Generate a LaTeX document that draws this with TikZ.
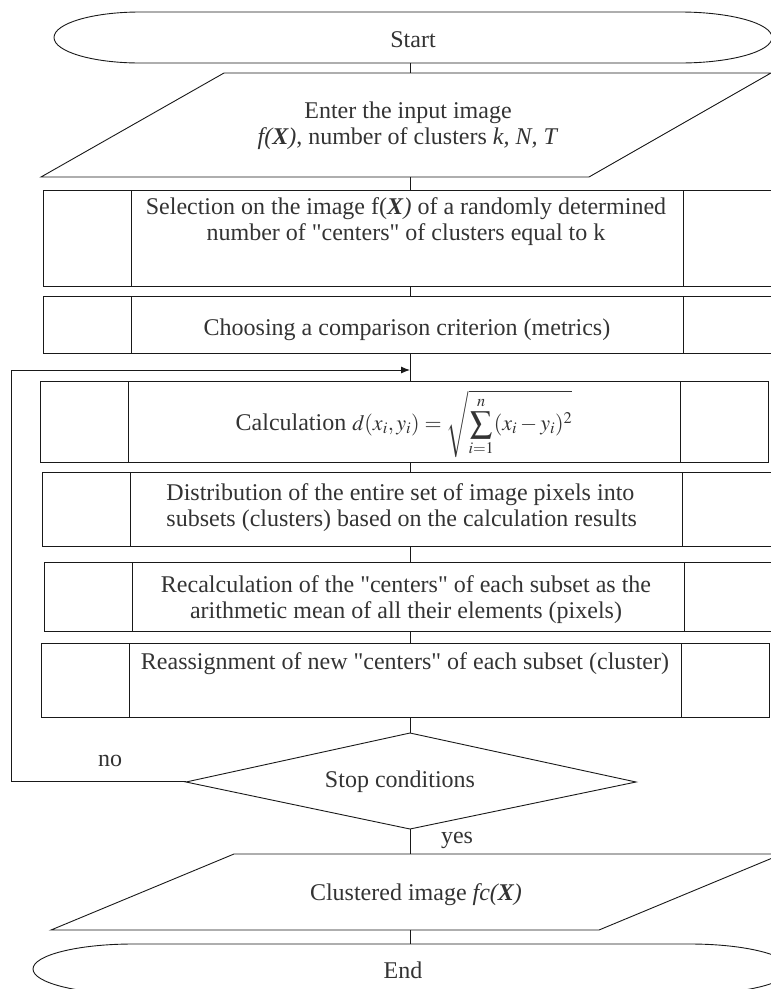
\documentclass[tikz,border=0pt]{standalone}
\usepackage{mathptmx}
\usepackage{fontspec}
\setmainfont{Liberation Serif}[Ligatures=TeXOff]
\usetikzlibrary{fit,arrows.meta}
\newcommand\dq{\char34\relax}
\begin{document}
\begin{tikzpicture}[x=1pt,y=-1pt,line width=0.9pt,
  shp/.style={draw=black!90},
  frame/.style={inner sep=0pt,outer sep=0pt},
  lbl/.style={font=\fontsize{24}{26}\selectfont,text=black!80,inner sep=0pt,align=center},
  conn/.style={draw=black!90}]
\useasboundingbox (0,0) rectangle (771,989);
\clip (0,0) rectangle (771,989);
\coordinate (axis) at (410,0);
\coordinate (loopx) at (11,0);
\coordinate (loopy) at (0,370);

% Start terminator
\draw[shp] (140,12) -- (680,12) arc[start angle=-90,end angle=90,x radius=92,y radius=25.5]
  -- (140,63) arc[start angle=90,end angle=270,x radius=86,y radius=25.5] -- cycle;
\node[frame,fit={(54,12) (772,63)}] (start) {};
\node[lbl] (tstart) at (413,40) {Start};

% Input parallelogram
\draw[shp] (224,73) -- (771,73) -- (589,177) -- (41,177) -- cycle;
\node[frame,fit={(41,73) (771,177)}] (input) {};
\node[lbl] (tinput) at (408,126) {Enter the input image\\ \textit{f(\textbf{X})}, number of clusters \textit{k, N, T}};

% Selection
\node[shp,frame,fit={(43,190) (776,286)}] (sel) {};
\draw[shp] (131,190) -- (131,286) (683,190) -- (683,286);
\node[lbl] (tsel) at (406,222) {Selection on the image f(\textbf{\textit{X}}\textit{)} of a randomly determined\\ number of \dq centers\dq\ of clusters equal to k};

% Choosing
\node[shp,frame,fit={(43,296) (776,353)}] (cho) {};
\draw[shp] (131,296) -- (131,353) (683,296) -- (683,353);
\node[lbl] (tcho) at (407,330) {Choosing a comparison criterion (metrics)};

% Calculation
\node[shp,frame,fit={(40,381) (768,462)}] (calc) {};
\draw[shp] (128,381) -- (128,462) (680,381) -- (680,462);
\node[lbl] (tcalc) at (404,424) {Calculation {\fontsize{22}{24}\selectfont$\displaystyle d(x_i,y_i)=\sqrt{\sum_{i=1}^{n}(x_i-y_i)^2}$}};

% Distribution
\node[shp,frame,fit={(42,472) (771,546)}] (dist) {};
\draw[shp] (130,472) -- (130,546) (682,472) -- (682,546);
\node[lbl,align=left,anchor=west] (tdist) at (166,508) {Distribution of the entire set of image pixels into\\ subsets (clusters) based on the calculation results};

% Recalculation
\node[shp,frame,fit={(44,562) (776,631)}] (rec) {};
\draw[shp] (132,562) -- (132,631) (684,562) -- (684,631);
\node[lbl] (trec) at (406,600) {Recalculation of the \dq centers\dq\ of each subset as the\\ arithmetic mean of all their elements (pixels)};

% Reassignment
\node[shp,frame,fit={(41,643) (769,717)}] (rea) {};
\draw[shp] (129,643) -- (129,717) (681,643) -- (681,717);
\node[lbl] (trea) at (405,664) {Reassignment of new \dq centers\dq\ of each subset (cluster)};

% Decision
\draw[shp] (410,733) -- (636,782) -- (410,829) -- (186,782) -- cycle;
\node[frame,fit={(186,733) (636,829)}] (stop) {};
\node[lbl] (tstop) at (400,782) {Stop conditions};
\node[lbl] (tno) at (110,761) {no};
\node[lbl] (tyes) at (457,840) {yes};

% Output parallelogram
\draw[shp] (234,854) -- (782,854) -- (599,930) -- (51,930) -- cycle;
\node[frame,fit={(51,854) (782,930)}] (out) {};
\node[lbl] (tout) at (416,895) {Clustered image \textit{fc(\textbf{X})}};

% End terminator
\draw[shp] (133,944) -- (690,944) arc[start angle=-90,end angle=90,x radius=100,y radius=25]
  -- (133,994) arc[start angle=90,end angle=270,x radius=100,y radius=25] -- cycle;
\node[frame,fit={(33,944) (790,994)}] (end) {};
\node[lbl] (tend) at (403,970) {End};

% Connectors
\draw[conn] (start.south -| axis) -- (input.north -| axis);
\draw[conn] (input.south -| axis) -- (sel.north -| axis);
\draw[conn] (sel.south -| axis) -- (cho.north -| axis);
\draw[conn] (cho.south -| axis) -- (calc.north -| axis);
\draw[conn] (calc.south -| axis) -- (dist.north -| axis);
\draw[conn] (dist.south -| axis) -- (rec.north -| axis);
\draw[conn] (rec.south -| axis) -- (rea.north -| axis);
\draw[conn] (rea.south -| axis) -- (stop.north -| axis);
\draw[conn] (stop.south -| axis) -- (out.north -| axis);
\draw[conn] (out.south -| axis) -- (end.north -| axis);
\draw[conn,-{Latex[length=9pt,width=7pt]}] (stop.west) -- (stop.west -| loopx) -- (loopx |- loopy) -- (axis |- loopy);
\end{tikzpicture}
\end{document}
